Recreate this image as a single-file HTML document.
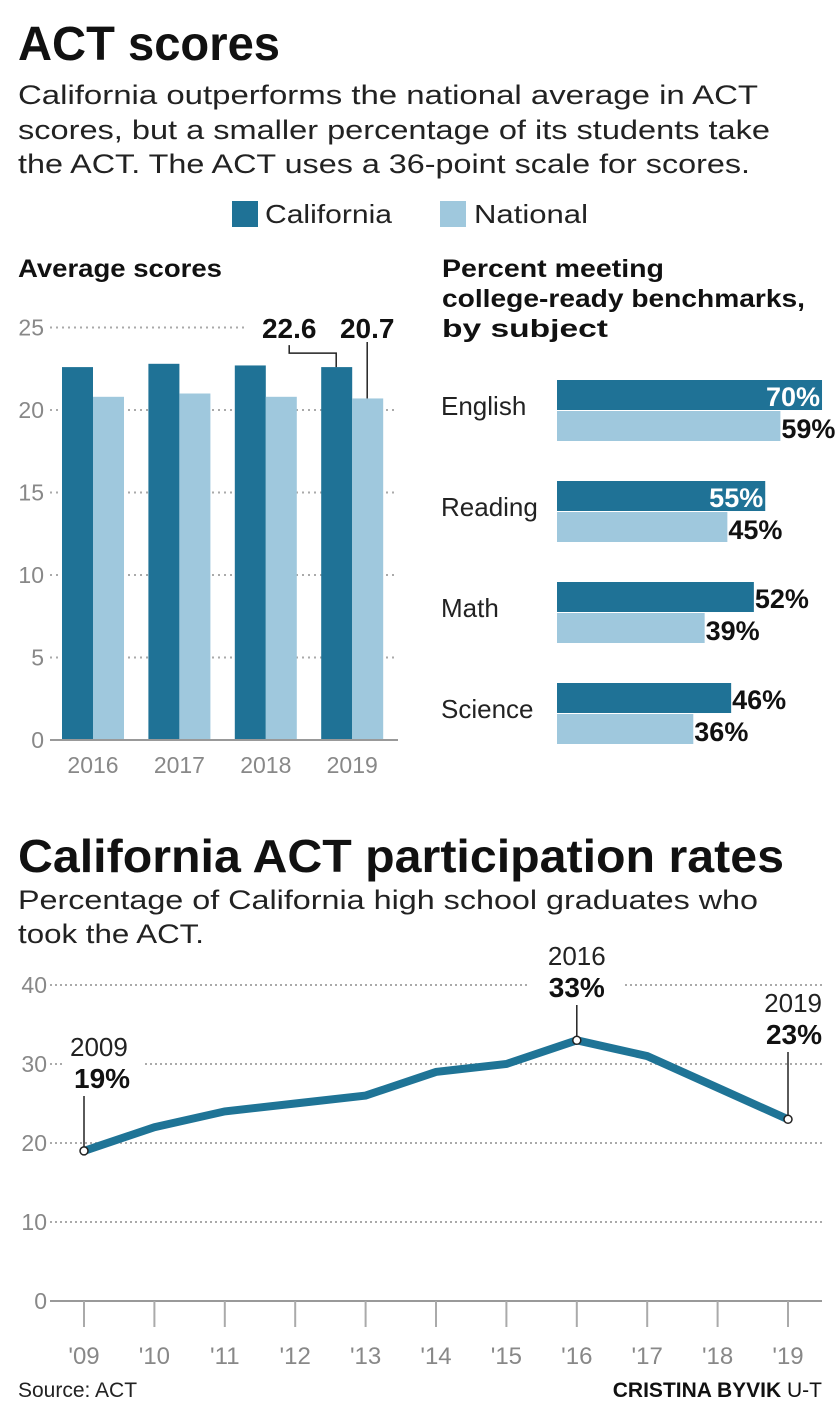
<!DOCTYPE html>
<html><head><meta charset="utf-8">
<style>
body{margin:0;width:840px;height:1413px;background:#fff;font-family:"Liberation Sans",sans-serif;overflow:hidden}
svg{position:absolute;left:0;top:0}
</style></head>
<body>
<svg width="840" height="1413" font-family="Liberation Sans, sans-serif">
<text x="18" y="60" font-size="48" font-weight="bold" fill="#111" textLength="262" lengthAdjust="spacingAndGlyphs">ACT scores</text>
<g font-size="27" fill="#222">
<text x="18" y="104" textLength="740" lengthAdjust="spacingAndGlyphs">California outperforms the national average in ACT</text>
<text x="18" y="139" textLength="752" lengthAdjust="spacingAndGlyphs">scores, but a smaller percentage of its students take</text>
<text x="18" y="173" textLength="732" lengthAdjust="spacingAndGlyphs">the ACT. The ACT uses a 36-point scale for scores.</text>
</g>
<g>
<rect x="232" y="201" width="26" height="26" fill="#1f7296"/>
<text x="265" y="223" font-size="26" fill="#222" textLength="127" lengthAdjust="spacingAndGlyphs">California</text>
<rect x="440" y="201" width="26" height="26" fill="#9fc8dd"/>
<text x="474" y="223" font-size="26" fill="#222" textLength="114" lengthAdjust="spacingAndGlyphs">National</text>
</g>
<text x="18" y="277" font-size="25" font-weight="bold" fill="#111" textLength="204" lengthAdjust="spacingAndGlyphs">Average scores</text>
<g id="bars"></g>
<g font-size="25" font-weight="bold" fill="#111">
<text x="442" y="277" textLength="222" lengthAdjust="spacingAndGlyphs">Percent meeting</text>
<text x="442" y="307" textLength="363" lengthAdjust="spacingAndGlyphs">college-ready benchmarks,</text>
<text x="442" y="337" textLength="166" lengthAdjust="spacingAndGlyphs">by subject</text>
</g>
<g id="hbars"></g>
<text x="18" y="872" font-size="46" font-weight="bold" fill="#111" textLength="766" lengthAdjust="spacingAndGlyphs">California ACT participation rates</text>
<g font-size="27" fill="#222">
<text x="18" y="909" textLength="740" lengthAdjust="spacingAndGlyphs">Percentage of California high school graduates who</text>
<text x="18" y="943" textLength="186" lengthAdjust="spacingAndGlyphs">took the ACT.</text>
</g>
<g id="line"></g>
<text x="18" y="1397" font-size="21" fill="#222">Source: ACT</text>
<text x="822" y="1397" font-size="21" fill="#111" text-anchor="end"><tspan font-weight="bold">CRISTINA BYVIK</tspan> U-T</text>
</svg>
<script>
const NS="http://www.w3.org/2000/svg";
function mk(p,t,a){const e=document.createElementNS(NS,t);for(const k in a)e.setAttribute(k,a[k]);p.appendChild(e);return e;}
// Average scores
const years=["2016","2017","2018","2019"];
const caScores=[22.6,22.8,22.7,22.6];
const natScores=[20.8,21.0,20.8,20.7];
const scoreTicks=[0,5,10,15,20,25];
// Benchmarks
const subjects=["English","Reading","Math","Science"];
const caPct=[70,55,52,46];
const natPct=[59,45,39,36];
// Participation
const partYears=["'09","'10","'11","'12","'13","'14","'15","'16","'17","'18","'19"];
const partVals=[19,22,24,25,26,29,30,33,31,27,23];
const partTicks=[0,10,20,30,40];

const DARK="#1f7296",LIGHT="#9fc8dd";
// bar chart
{const g=document.getElementById('bars');
const y=v=>740-v*16.5, x0=i=>62+i*86.4;
scoreTicks.forEach(t=>{
 const l=mk(g,'line',{x1:50,x2:398,y1:y(t),y2:y(t),stroke:t==0?'#999':'#aaa','stroke-width':2,'stroke-dasharray':t==0?'':'2 4'});
 
 
 const tx=mk(g,'text',{x:44,y:y(t)+8,'font-size':23,fill:'#888','text-anchor':'end'});tx.textContent=t;
 
 
});
mk(g,'rect',{x:245,y:y(25)-5,width:160,height:10,fill:'#fff'});
years.forEach((yr,i)=>{
 const a=mk(g,'rect',{x:x0(i),y:y(caScores[i]),width:31,height:740-y(caScores[i]),fill:DARK});
 
 
 const b=mk(g,'rect',{x:x0(i)+31,y:y(natScores[i]),width:31,height:740-y(natScores[i]),fill:LIGHT});
 
 
 const t=mk(g,'text',{x:x0(i)+31,y:773,'font-size':23,fill:'#888','text-anchor':'middle'});t.textContent=yr;
 
 
});
mk(g,'line',{x1:50,x2:398,y1:740,y2:740,stroke:'#999','stroke-width':2});
const li=3,cx=x0(li)+15,nx=x0(li)+46;
mk(g,'polyline',{points:`${cx},${y(caScores[li])} ${cx},${y(caScores[li])-14} ${cx-47},${y(caScores[li])-14} ${cx-47},${y(caScores[li])-22}`,fill:'none',stroke:'#222','stroke-width':1.5});
mk(g,'line',{x1:nx,x2:nx,y1:y(natScores[li]),y2:342,stroke:'#222','stroke-width':1.5});
const l1=mk(g,'text',{x:cx-47,y:338,'font-size':28,'font-weight':'bold','text-anchor':'middle',fill:'#111'});l1.textContent=caScores[li].toFixed(1);


const l2=mk(g,'text',{x:nx,y:338,'font-size':28,'font-weight':'bold','text-anchor':'middle',fill:'#111'});l2.textContent=natScores[li].toFixed(1);


}
// horizontal bars
{const g=document.getElementById('hbars');
const x=v=>557+v*3.786;
subjects.forEach((s,i)=>{
 const top=380+i*101;
 const lab=mk(g,'text',{x:441,y:top+35,'font-size':26,fill:'#222'});lab.textContent=s;
 
 
 const a=mk(g,'rect',{x:557,y:top,width:x(caPct[i])-557,height:30,fill:DARK});
 
 
 const b=mk(g,'rect',{x:557,y:top+31,width:x(natPct[i])-557,height:30,fill:LIGHT});
 
 
 const inside=caPct[i]>=55;
 const t1=mk(g,'text',{x:inside?x(caPct[i])-2:x(caPct[i])+1,y:top+26,'font-size':27,'font-weight':'bold',fill:inside?'#fff':'#111','text-anchor':inside?'end':'start'});t1.textContent=caPct[i]+'%';
 
 
 const t2=mk(g,'text',{x:x(natPct[i])-66,y:top+58,'font-size':27,'font-weight':'bold',fill:'#111'});t2.textContent=natPct[i]+'%';
 t2.setAttribute('x',x(natPct[i])+1);
 
 
});}
// line chart
{const g=document.getElementById('line');
const y=v=>1301-v*7.9, x=i=>84+i*70.4;
partTicks.forEach(t=>{
 const l=mk(g,'line',{x1:50,x2:822,y1:y(t),y2:y(t),stroke:t==0?'#999':'#aaa','stroke-width':2,'stroke-dasharray':t==0?'':'2 3'});
 
 
 const tx=mk(g,'text',{x:47,y:y(t)+8,'font-size':23,fill:'#888','text-anchor':'end'});tx.textContent=t;
 
 
});
mk(g,'rect',{x:64,y:y(30)-5,width:80,height:10,fill:'#fff'});
mk(g,'rect',{x:530,y:y(40)-5,width:92,height:10,fill:'#fff'});
partYears.forEach((py,i)=>{
 mk(g,'line',{x1:x(i),x2:x(i),y1:1301,y2:1327,stroke:'#aaa','stroke-width':2});
 const t=mk(g,'text',{x:x(i),y:1364,'font-size':24,fill:'#888','text-anchor':'middle'});t.textContent=py;
 
 
});
const pl=mk(g,'polyline',{points:partVals.map((v,i)=>x(i)+','+y(v)).join(' '),fill:'none',stroke:'#1f7496','stroke-width':8,'stroke-linejoin':'miter'});


[[0,'2009',70,1056],[7,'2016',576,965],[10,'2019',788,1012]].forEach(([i,yr,lx,ly])=>{
 mk(g,'line',{x1:x(i),x2:x(i),y1:y(partVals[i]),y2:ly+40,stroke:'#222','stroke-width':1.5});
 mk(g,'circle',{cx:x(i),cy:y(partVals[i]),r:4,fill:'#fff',stroke:'#222','stroke-width':1.5});
 const anchor=i==0?'start':(i==10?'end':'middle');
 const ax=i==0?lx:(i==10?822:x(i));
 const a=mk(g,'text',{x:ax,y:ly,'font-size':26,fill:'#222','text-anchor':anchor});a.textContent=yr;
 
 
 const b=mk(g,'text',{x:i==0?lx+4:ax,y:ly+32,'font-size':28,'font-weight':'bold',fill:'#111','text-anchor':anchor});b.textContent=partVals[i]+'%';
 
 
});}
</script>
</body></html>
